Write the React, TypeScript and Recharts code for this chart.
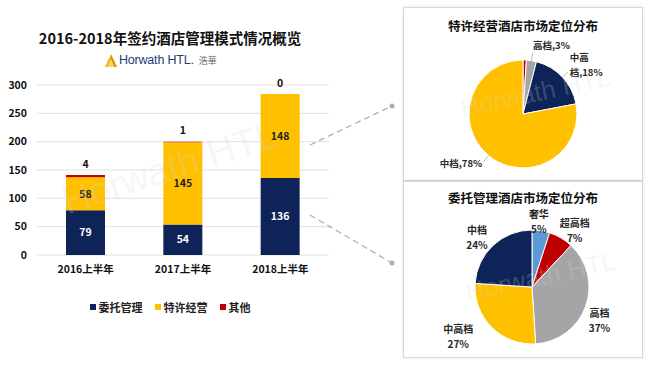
import React from 'react';
import { BarChart, Bar, XAxis, YAxis, CartesianGrid, Legend, LabelList, PieChart, Pie, Cell } from 'recharts';

const years = ['2016上半年', '2017上半年', '2018上半年'];
const entrusted = [79, 54, 136];
const franchise = [58, 145, 148];
const others = [4, 1, 0];
const seriesNames = ['委托管理', '特许经营', '其他'];
const yTicks = [0, 50, 100, 150, 200, 250, 300];

const franchiseSegments = ['其他', '高档', '中高档', '中档'];
const franchiseShares = [1, 3, 18, 78];
const franchiseLabels = ['', '高档,3%', '中高\n档,18%', '中档,78%'];

const managedSegments = ['奢华', '超高档', '高档', '中高档', '中档'];
const managedShares = [5, 7, 37, 27, 24];

const NAVY = '#0e2357';
const YELLOW = '#ffc000';
const RED = '#c00000';
const GRAY = '#a5a5a5';
const BLUE = '#5b9bd5';
const FONT = '"Noto Sans CJK SC", "Noto Sans", sans-serif';

const seriesColors = [NAVY, YELLOW, RED];
const franchiseColors = [RED, GRAY, NAVY, YELLOW];
const managedColors = [BLUE, RED, GRAY, YELLOW, NAVY];
// small style nudges for the managed-pie label placement (best-fit like)
const managedLabelNudge = [[-5, 4], [4, 3], [-4, 2], [-20, -10], [-3, 0]];

const barData = years.map((y, i) => ({ year: y, entrusted: entrusted[i], franchise: franchise[i], others: others[i] }));
const franchiseData = franchiseSegments.map((n, i) => ({ name: n, value: franchiseShares[i], label: franchiseLabels[i] }));
const managedData = managedSegments.map((n, i) => ({ name: n, value: managedShares[i] }));

const RAD = Math.PI / 180;

const franchiseLabel = (p: any) => {
  const { cx, cy, midAngle, outerRadius, index } = p;
  const text: string = franchiseData[index].label;
  if (!text) return null;
  const cos = Math.cos(-midAngle * RAD);
  const sin = Math.sin(-midAngle * RAD);
  const x1 = cx + outerRadius * cos, y1 = cy + outerRadius * sin;
  const x2 = cx + (outerRadius + 8) * cos, y2 = cy + (outerRadius + 8) * sin;
  const lx = cx + (outerRadius + 10) * cos;
  const ly = cy + (outerRadius + 10) * sin - (sin < 0 ? 6 : 0);
  const lines = text.split('\n');
  const anchor = cos >= 0 ? 'start' : 'end';
  return (
    <g>
      <line x1={x1} y1={y1} x2={x2} y2={y2} stroke="#bfbfbf" strokeWidth={1} />
      <text x={lx} y={ly - ((lines.length - 1) * 15) / 2} textAnchor={anchor} dominantBaseline="central" fontSize={9.5} fontWeight={700} fill="#262626" fontFamily={FONT}>
        {lines.map((l, i) => (
          <tspan key={i} x={lx} dy={i === 0 ? 0 : 15}>{l}</tspan>
        ))}
      </text>
    </g>
  );
};

const managedLabel = (p: any) => {
  const { cx, cy, midAngle, outerRadius, index } = p;
  const cos = Math.cos(-midAngle * RAD);
  const sin = Math.sin(-midAngle * RAD);
  const lx = cx + (outerRadius + 19) * cos + managedLabelNudge[index][0];
  const ly = cy + (outerRadius + 19) * sin + 5 + managedLabelNudge[index][1];
  return (
    <text x={lx} y={ly - 7.5} textAnchor="middle" dominantBaseline="central" fontSize={10} fontWeight={700} fill="#262626" fontFamily={FONT}>
      <tspan x={lx} dy={0}>{managedData[index].name}</tspan>
      <tspan x={lx} dy={15}>{managedData[index].value + '%'}</tspan>
    </text>
  );
};

// label of the "其他" segment drawn above the stack top (works for zero values too)
const OthersLabel = (p: any) => {
  const { x, y, width, height, index } = p;
  const h = franchise[index] ? (height * others[index]) / franchise[index] : 0;
  return (
    <text x={x + width / 2} y={y - h - 12} textAnchor="middle" dominantBaseline="central" fontSize={10.5} fontWeight={700} fill="#111" fontFamily={FONT}>
      {others[index]}
    </text>
  );
};

const LegendContent = (props: any) => {
  const payload = [...(props.payload || [])].sort((a: any, b: any) => seriesNames.indexOf(a.value) - seriesNames.indexOf(b.value));
  return (
    <div style={{ display: 'flex', justifyContent: 'center', gap: 12, fontFamily: FONT, fontSize: 11, fontWeight: 700, color: '#222' }}>
      {payload.map((e: any, i: number) => (
        <div key={i} style={{ display: 'flex', alignItems: 'center' }}>
          <span style={{ width: 6, height: 6, background: e.color, display: 'inline-block', marginRight: 3 }} />
          <span>{e.value}</span>
        </div>
      ))}
    </div>
  );
};

const Logo = () => (
  <div style={{ position: 'absolute', left: 104, top: 51, display: 'flex', alignItems: 'center', height: 18 }}>
    <svg width={14} height={15} viewBox="0 0 14 15">
      <path d="M7 1 L1 14 L4 14 L7 7 Z" fill="#f2b61c" />
      <path d="M7 1 L13 14 L10 14 L7 7 Z" fill="#d99a00" />
      <path d="M7 7 L4 14 L10 14 Z" fill="#f8d36b" />
    </svg>
    <span style={{ fontFamily: 'Arial, "Liberation Sans", sans-serif', fontSize: 12.5, color: '#1f3d73', marginLeft: 1, letterSpacing: -0.2 }}>Horwath HTL.</span>
    <span style={{ fontFamily: FONT, fontSize: 9, color: '#666', marginLeft: 5 }}>浩華</span>
  </div>
);

const Watermark = ({ left, top, size, rot }: any) => (
  <div style={{ position: 'absolute', left, top, transform: `rotate(${rot}deg)`, transformOrigin: 'left bottom', fontFamily: 'Arial, "Liberation Sans", sans-serif', fontSize: size, color: 'rgba(215,215,215,0.22)', whiteSpace: 'nowrap', pointerEvents: 'none' }}>
    Horwath HTL
  </div>
);

export default function App() {
  return (
    <div style={{ position: 'absolute', left: 0, top: 0, width: 650, height: 365, background: '#fff', overflow: 'hidden', fontFamily: FONT }}>
      <div style={{ position: 'absolute', left: 0, top: 27, width: 340, textAlign: 'center', fontSize: 14.5, fontWeight: 700, color: '#111' }}>
        2016-2018年签约酒店管理模式情况概览
      </div>
      <Logo />
      <div style={{ position: 'absolute', left: 0, top: 0 }}>
        <BarChart width={340} height={320} data={barData} margin={{ top: 85, right: 11, left: 0, bottom: 35 }}>
          <CartesianGrid vertical={false} stroke="#e0e0e0" />
          <XAxis dataKey="year" axisLine={false} tickLine={false} tickSize={0} tickMargin={11} height={30} tick={{ fontSize: 10.5, fontWeight: 700, fill: '#111', fontFamily: FONT }} />
          <YAxis domain={[0, 300]} ticks={yTicks} axisLine={false} tickLine={false} tickSize={0} tickMargin={10} width={37} tick={{ fontSize: 10.5, fontWeight: 700, fill: '#111', fontFamily: FONT }} />
          <Legend layout="horizontal" verticalAlign="middle" align="center" wrapperStyle={{ top: 299, left: 0, width: 340 }} content={LegendContent} />
          <Bar dataKey="entrusted" name={seriesNames[0]} stackId="a" fill={seriesColors[0]} barSize={39} isAnimationActive={false}>
            <LabelList dataKey="entrusted" position="center" fill="#fff" fontSize={10.5} fontWeight={700} fontFamily={FONT} />
          </Bar>
          <Bar dataKey="franchise" name={seriesNames[1]} stackId="a" fill={seriesColors[1]} barSize={39} isAnimationActive={false}>
            <LabelList dataKey="franchise" position="center" fill="#222" fontSize={10.5} fontWeight={700} fontFamily={FONT} />
            <LabelList dataKey="others" content={OthersLabel} />
          </Bar>
          <Bar dataKey="others" name={seriesNames[2]} stackId="a" fill={seriesColors[2]} barSize={39} isAnimationActive={false} />
        </BarChart>
      </div>
      <Watermark left={70} top={180} size={38} rot={-18} />

      <svg width={650} height={365} style={{ position: 'absolute', left: 0, top: 0, pointerEvents: 'none' }}>
        <line x1={310} y1={145} x2={392} y2={106} stroke="#b0b0b0" strokeWidth={1.3} strokeDasharray="6 4" />
        <line x1={310} y1={215} x2={392} y2={263} stroke="#b0b0b0" strokeWidth={1.3} strokeDasharray="6 4" />
        <circle cx={392} cy={106} r={2.5} fill="#b0b0b0" />
        <circle cx={392} cy={263} r={2.5} fill="#b0b0b0" />
      </svg>

      <div style={{ position: 'absolute', left: 403, top: 7, width: 238, height: 172, border: '1px solid #d9d9d9', boxShadow: '0 0 3px rgba(0,0,0,0.12)', background: '#fff' }}>
        <div style={{ position: 'absolute', left: 0, top: 8, width: 238, textAlign: 'center', fontSize: 12.5, fontWeight: 700, color: '#111' }}>特许经营酒店市场定位分布</div>
        <div style={{ position: 'absolute', left: 0, top: 0 }}>
          <PieChart width={238} height={172} margin={{ top: 0, right: 0, bottom: 0, left: 0 }}>
            <Pie data={franchiseData} dataKey="value" cx={119} cy={106} outerRadius={54} startAngle={90} endAngle={-270} stroke="#fff" strokeWidth={1} label={franchiseLabel} labelLine={false} isAnimationActive={false}>
              {franchiseData.map((d, i) => <Cell key={d.name} fill={franchiseColors[i]} />)}
            </Pie>
          </PieChart>
        </div>
        <Watermark left={60} top={85} size={26} rot={-12} />
      </div>

      <div style={{ position: 'absolute', left: 403, top: 181, width: 238, height: 175, border: '1px solid #d9d9d9', boxShadow: '0 0 3px rgba(0,0,0,0.12)', background: '#fff' }}>
        <div style={{ position: 'absolute', left: 0, top: 6, width: 238, textAlign: 'center', fontSize: 12.5, fontWeight: 700, color: '#111' }}>委托管理酒店市场定位分布</div>
        <div style={{ position: 'absolute', left: 0, top: 0 }}>
          <PieChart width={238} height={175} margin={{ top: 0, right: 0, bottom: 0, left: 0 }}>
            <Pie data={managedData} dataKey="value" cx={128} cy={105} outerRadius={57} startAngle={90} endAngle={-270} stroke="#fff" strokeWidth={1} label={managedLabel} labelLine={false} isAnimationActive={false}>
              {managedData.map((d, i) => <Cell key={d.name} fill={managedColors[i]} />)}
            </Pie>
          </PieChart>
        </div>
        <Watermark left={65} top={95} size={26} rot={-12} />
      </div>
    </div>
  );
}
